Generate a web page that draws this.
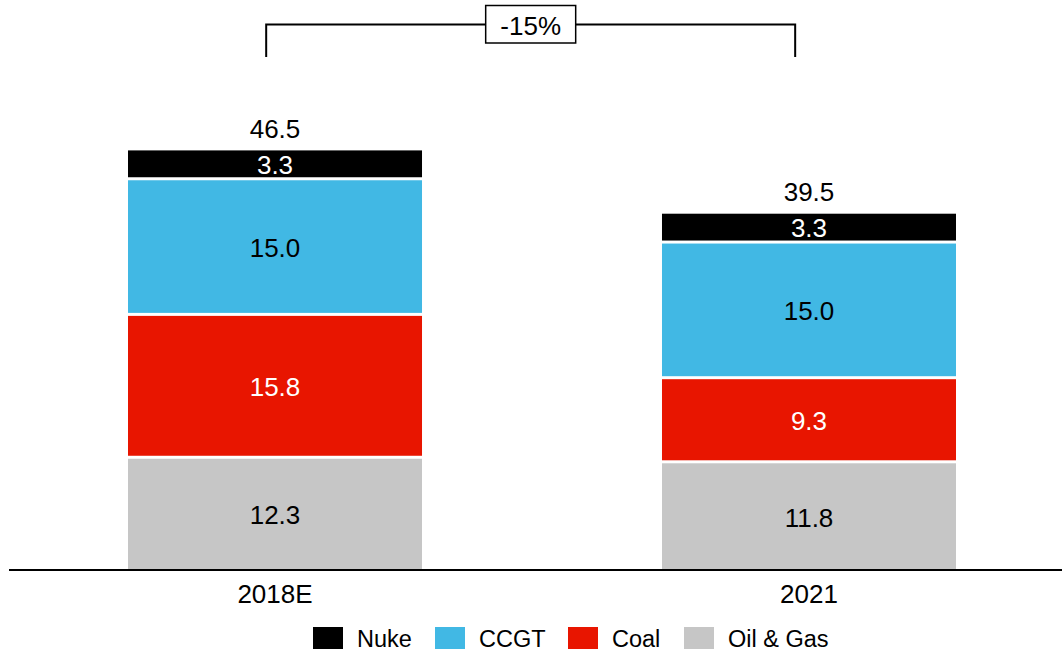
<!DOCTYPE html>
<html>
<head>
<meta charset="utf-8">
<script src="https://cdn.jsdelivr.net/npm/d3@7"></script>
<style>
  body { margin: 0; background: #fff; }
  svg { display: block; font-family: "Liberation Sans", Arial, sans-serif; }
</style>
</head>
<body>
<div id="chart"></div>
<script>
/* Stacked bars: generation capacity 2018E vs 2021 */

const categories = ["2018E", "2021"];
const seriesNames = ["Oil & Gas", "Coal", "CCGT", "Nuke"];
const oilGas = [12.3, 11.8];
const coal = [15.8, 9.3];
const ccgt = [15.0, 15.0];
const nuke = [3.3, 3.3];
const totals = [46.5, 39.5];
const changeLabel = "-15%";
const legendOrder = ["Nuke", "CCGT", "Coal", "Oil & Gas"];

let width = 1062,
  height = 651,
  baseline = 570;

const color = {
  "Nuke": "#000000",
  "CCGT": "#41b8e4",
  "Coal": "#e81500",
  "Oil & Gas": "#c6c6c6",
};
const labelColor = {
  "Nuke": "#ffffff",
  "CCGT": "#000000",
  "Coal": "#ffffff",
  "Oil & Gas": "#000000",
};

const table = categories.map((c, i) => ({
  category: c,
  "Oil & Gas": oilGas[i],
  "Coal": coal[i],
  "CCGT": ccgt[i],
  "Nuke": nuke[i],
  total: totals[i],
}));

const svg = d3
  .select("#chart")
  .append("svg")
  .attr("width", width)
  .attr("height", height);

let x = d3
  .scaleBand()
  .domain(categories)
  .range([128, 956])
  .paddingInner(0.4494)
  .paddingOuter(0);

let y = d3
  .scaleLinear()
  .domain([0, 46.5])
  .range([baseline, 149.5]);

const stacked = d3.stack().keys(seriesNames)(table);
const gap = 3;

// bars
stacked.forEach((layer, li) => {
  const g = svg.append("g");
  g.selectAll("rect")
    .data(layer)
    .join("rect")
    .attr("x", (d) => x(d.data.category))
    .attr("width", x.bandwidth())
    .attr("y", (d) => y(d[1]))
    .attr("height", (d) => y(d[0]) - y(d[1]) - (li > 0 ? gap : 0))
    .attr("fill", color[layer.key]);

  g.selectAll("text")
    .data(layer)
    .join("text")
    .attr("x", (d) => x(d.data.category) + x.bandwidth() / 2)
    .attr("y", (d) => (y(d[0]) - (li > 0 ? gap : 0) + y(d[1])) / 2 + 1)
    .attr("text-anchor", "middle")
    .attr("dominant-baseline", "central")
    .attr("font-size", 26)
    .attr("fill", labelColor[layer.key])
    .text((d) => d3.format(".1f")(d[1] - d[0]));
});

// totals
svg
  .append("g")
  .selectAll("text")
  .data(table)
  .join("text")
  .attr("x", (d) => x(d.category) + x.bandwidth() / 2)
  .attr("y", (d) => y(d.total) - 11.5)
  .attr("text-anchor", "middle")
  .attr("font-size", 26)
  .text((d) => d3.format(".1f")(d.total));

// baseline + category labels
svg
  .append("line")
  .attr("x1", 9)
  .attr("x2", width)
  .attr("y1", baseline)
  .attr("y2", baseline)
  .attr("stroke", "#000")
  .attr("stroke-width", 2);

svg
  .append("g")
  .selectAll("text")
  .data(categories)
  .join("text")
  .attr("x", (d) => x(d) + x.bandwidth() / 2)
  .attr("y", baseline + 33)
  .attr("text-anchor", "middle")
  .attr("font-size", 26)
  .text((d) => d);

// bracket showing the change
const bx1 = x(categories[0]) + x.bandwidth() * 0.47,
  bx2 = x(categories[1]) + x.bandwidth() * 0.453,
  by = 24.5;

svg
  .append("path")
  .attr("d", `M${bx1},57V${by}H${bx2}V57`)
  .attr("fill", "none")
  .attr("stroke", "#000")
  .attr("stroke-width", 2);

const bmid = (bx1 + bx2) / 2;
svg
  .append("rect")
  .attr("x", bmid - 45)
  .attr("y", 5.5)
  .attr("width", 90)
  .attr("height", 37.5)
  .attr("fill", "#fff")
  .attr("stroke", "#000")
  .attr("stroke-width", 1.5);

svg
  .append("text")
  .attr("x", bmid)
  .attr("y", 35)
  .attr("text-anchor", "middle")
  .attr("font-size", 26)
  .text(changeLabel);

// legend
const legendX = [313, 435, 568, 684];
const legend = svg
  .append("g")
  .selectAll("g")
  .data(legendOrder)
  .join("g")
  .attr("transform", (d, i) => `translate(${legendX[i]},627)`);

legend
  .append("rect")
  .attr("width", 30)
  .attr("height", 22)
  .attr("fill", (d) => color[d]);

legend
  .append("text")
  .attr("x", 44)
  .attr("y", 20)
  .attr("font-size", 23.5)
  .text((d) => d);
</script>
</body>
</html>
